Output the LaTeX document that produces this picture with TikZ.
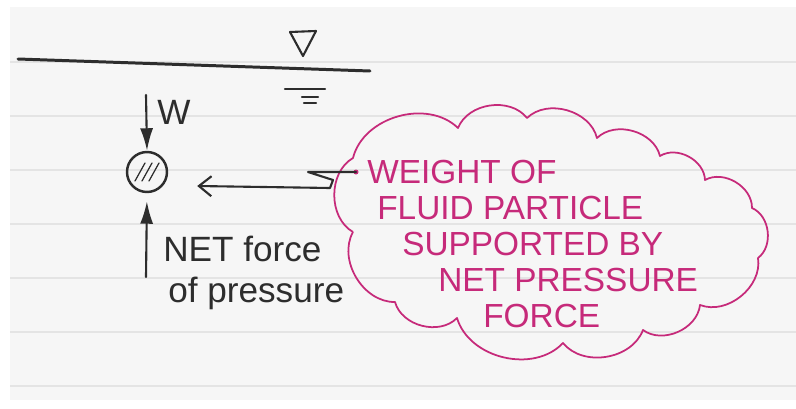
\documentclass[tikz,border=0pt]{standalone}
\usepackage{fontspec}
\setmainfont{Liberation Sans}
\usetikzlibrary{arrows.meta,positioning,calc}
\definecolor{ink}{RGB}{45,45,45}
\definecolor{marker}{RGB}{198,42,122}
\definecolor{paper}{RGB}{246,246,246}
\definecolor{rule}{RGB}{228,228,228}
\tikzset{
  pen/.style={draw=ink, line width=1.2pt, line cap=round, line join=round},
  force/.style={pen, -{Latex[length=4.5mm,width=2.6mm]}},
  hand/.style={text=ink, font=\fontsize{20}{23}\selectfont, inner sep=0pt},
  bubble/.style={draw=marker, line width=1pt, line join=round},
  note/.style={text=marker, font=\fontsize{19}{20.5}\selectfont, inner sep=0pt, align=left},
}

\begin{document}
\begin{tikzpicture}[x=0.02cm, y=-0.02cm]
    \useasboundingbox (0,0) rectangle (796,409);
    % ruled paper
    \fill[paper] (10,7) rectangle (796,400);
    \foreach \y in {62,116,...,386}
        \draw[rule, line width=0.8pt] (10,\y) -- (796,\y);

    % free surface
    \draw[pen, line width=1.7pt] (18,59) -- (370,71);
    \draw[pen] (290,32) -- (316,31) -- (303,56) -- cycle;
    \draw[pen] (285,89) -- (325,89);
    \draw[pen] (302,97) -- (318,97);
    \draw[pen] (304,103) -- (316,103);

    % fluid particle and the two forces
    \node[circle, pen, line width=1.4pt, minimum size=0.8cm, inner sep=0pt] (particle) at (147,172) {};
    \foreach \dx in {-7,0,7}
        \draw[pen, line width=0.7pt] ($(particle)+(\dx-5,9)$) -- ($(particle)+(\dx+5,-9)$);
    \coordinate (wtop) at (146,95);
    \draw[force] (wtop) -- (particle.north);
    \node[hand, font=\fontsize{20}{20}\selectfont] (wlabel) at (174,112) {W};
    \coordinate (pbase) at (146,277);
    \draw[force, shorten >=0.16cm] (pbase) -- (particle.south);
    \node[hand, anchor=north west, align=left] (netforce) at (163,236)
        {NET force\\\hspace*{0.1cm}of pressure};

    % thought cloud
    \draw[bubble] (353,232)
        \foreach \px/\py in {353/158, 458/128, 527/118, 597/138, 660/156, 705/180,
                             752/208, 758/258, 700/305, 643/330, 563/343, 457/318,
                             395/302, 353/232}
        { to[bend left=60] (\px,\py) };
    \node[note, anchor=north west] (text) at (367,160)
        {WEIGHT OF\\
         \hspace*{0.2cm}FLUID PARTICLE\\
         \hspace*{0.7cm}SUPPORTED BY\\
         \hspace*{1.42cm}NET PRESSURE\\
         \hspace*{2.32cm}FORCE};
    \coordinate (tail) at (356,172);
    \fill[marker] (tail) circle (2.5);
    \draw[pen, -{Straight Barb[length=2.5mm,width=4mm]}]
        (tail) -- ++(-48,0) -- ++(25,8) -- ++(-3,8) -- ($(particle.east)+(29,14)$);
\end{tikzpicture}
\end{document}
